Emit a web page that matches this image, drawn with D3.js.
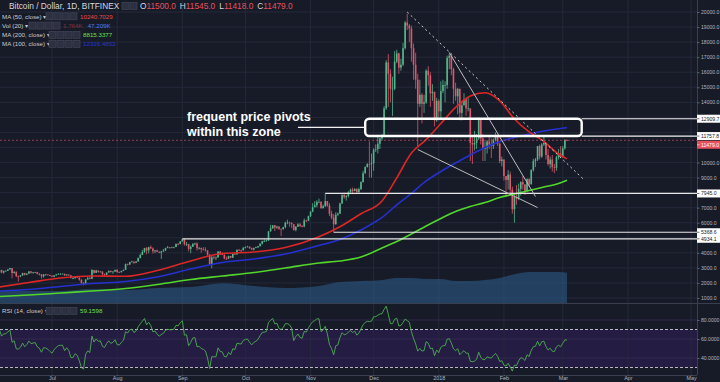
<!DOCTYPE html>
<html><head><meta charset="utf-8">
<script src="https://cdn.jsdelivr.net/npm/d3@7"></script>
<style>body{margin:0;background:#171b28;overflow:hidden}svg{display:block}</style>
</head><body>
<svg id="c" width="720" height="382"></svg>
<script>
// ---------------- DATA ----------------
const startDate = "2017-06-06";
// closes prior to the first visible candle (RSI warm-up, May 22 - Jun 5 2017)
const warmupCloses = [2150,2300,2480,2350,2250,2050,2200,2300,2200,2330,2450,2500,2550,2530,2700];
const closes = [
 2860,2690,2800,2810,2900,2990,2660,2720,2450,2440,2500,2660,2540,2620,2760,2680,2700,2720,2600,2560,2440,2570,2560,2530,2470,
 2420,2500,2560,2600,2610,2610,2500,2560,2500,2330,2330,2400,2360,2220,1980,1920,2230,2320,2270,2860,2670,2820,2740,2760,2580,2540,2690,2800,2720,2760,2860,
 2720,2710,2800,2870,3250,3220,3390,3420,3340,3420,3650,3860,4060,4320,4160,4380,4290,4110,4160,4070,4010,4090,4150,4320,4370,4360,4360,4390,4590,4580,4760,
 4900,4570,4590,4260,4400,4600,4620,4310,4330,4250,4220,4160,3880,3240,3700,3690,3690,4090,3900,3880,3620,3610,3790,3670,3930,3890,4200,4180,4170,4340,
 4400,4410,4310,4220,4320,4370,4440,4610,4770,4780,4820,5430,5640,5830,5680,5750,5600,5570,5700,6000,6010,5980,5900,5520,5740,5890,5770,5750,6150,6130,6440,
 6740,7030,7160,7380,7390,6960,7100,7440,7140,6600,6340,5900,6530,6600,7280,7840,7700,7780,8030,8200,8100,8240,8030,8230,8700,9290,9700,9900,9890,9950,
 10850,10900,11250,11600,11700,13600,16650,15900,14900,14900,16700,17250,16300,16500,17600,19300,19100,18900,17600,16500,15500,13900,14500,13900,14000,16100,15800,14600,14700,12800,14100,
 13400,14750,15150,15150,16950,17100,16200,14900,14400,14900,13300,13800,14200,13600,13600,11300,11200,11300,11600,12900,11600,10900,10950,11400,11200,11100,11500,11800,11250,10100,10200,
 9100,8850,9200,8200,6900,7700,7600,8250,8700,8550,8100,8900,8550,9500,10100,10200,11100,10400,11200,11300,10500,9900,10200,9700,9650,10350,10600,10400,
 10950,11500,11479
];
const highs = [
 2950,2880,2820,2840,2920,3000,2990,2800,2780,2500,2530,2680,2680,2640,2800,2800,2730,2740,2730,2650,2590,2580,2600,2580,2550,
 2510,2520,2600,2650,2640,2630,2610,2570,2570,2530,2410,2420,2420,2380,2230,2060,2240,2400,2410,2920,2860,2880,2830,2780,2760,2620,2700,2830,2820,2770,2900,
 2930,2760,2810,2890,3290,3290,3400,3480,3430,3450,3690,3950,4200,4330,4390,4400,4490,4360,4190,4220,4100,4130,4260,4340,4450,4380,4410,4400,4620,4650,4770,
 4934,4920,4720,4600,4500,4640,4680,4700,4380,4330,4380,4370,4160,3920,3790,3830,3760,4100,4110,4030,3890,3750,3810,3790,3950,3980,4220,4260,4210,4370,
 4410,4470,4430,4350,4350,4420,4460,4630,4800,4900,4880,5440,5860,5840,5850,5790,5750,5600,5730,6070,6200,6070,6040,5920,5770,5970,5990,5850,6280,6200,6470,
 6770,7300,7440,7500,7600,7420,7200,7945,7440,7300,6800,6580,6700,6680,7330,7900,8000,7850,8100,8270,8330,8300,8290,8330,8760,9450,9750,9950,11400,10600,
 10950,11200,11850,11650,11900,13750,16800,17200,16200,15700,17400,17500,17300,16900,17950,19400,19891,19200,19100,17900,17300,15900,15500,14600,14500,16200,16400,16000,15200,14700,14300,
 14200,15400,15500,15400,17100,17252,17100,16300,15300,14950,14900,14100,14600,14300,14300,13600,11700,12100,11900,13000,12950,11900,11400,11500,11700,11600,11600,12000,11850,11300,10400,
 10200,9100,9500,9400,8400,7900,8500,8600,8750,9100,8550,8950,8950,9550,10250,10300,11100,11200,11300,11800,11300,10900,10400,10500,9900,10450,10900,11100,
 11100,11550,11545
];
const lows = [
 2680,2650,2620,2760,2790,2880,2300,2620,2380,2100,2380,2470,2500,2520,2610,2620,2620,2680,2570,2500,2290,2350,2470,2500,2450,
 2390,2380,2490,2560,2550,2580,2480,2480,2500,2300,2250,2260,2330,2150,1970,1840,1920,2220,2240,2270,2620,2660,2680,2700,2490,2460,2540,2690,2700,2610,2740,
 2680,2660,2700,2780,2860,3170,3210,3370,3250,3320,3420,3640,3850,4000,3900,3970,4260,3950,3980,4050,3980,3600,4070,4120,4310,4270,4330,4300,4380,4520,4570,
 4740,4480,4450,4100,3970,4400,4500,4150,4220,4000,4150,4080,3800,3210,2970,3560,3530,3690,3850,3850,3570,3520,3580,3650,3670,3870,3890,4130,4030,4160,
 4290,4380,4270,4180,4150,4310,4320,4430,4550,4720,4740,4800,5400,5580,5450,5590,5520,5120,5550,5630,5900,5730,5650,5470,5420,5730,5730,5690,5700,6050,6110,
 6380,6700,7030,7020,7300,6950,6960,7050,7060,6450,6230,5368,5870,6450,6600,7250,7580,7470,7680,8000,7900,8100,8000,8000,8180,8670,9250,9670,9000,9000,
 9450,10700,10600,10900,11450,11700,13500,13700,14000,13100,14800,16600,15900,16100,16400,17500,18800,18000,16700,15500,14900,11000,13700,12600,13300,13900,15100,13700,14100,12400,12700,
 12800,12900,14600,14000,14900,16200,15800,13900,14100,13200,12800,12800,13800,13100,13400,10100,9900,10800,10900,11500,11200,10100,10100,10600,10900,10300,10900,11400,11100,9950,9750,
 8800,7700,8200,7900,6600,6000,7200,7500,7800,8200,7850,8100,8400,8550,9400,9700,10100,10200,10300,11100,10200,9800,9600,9400,9300,9450,10200,10300,
 10300,10850,11418
];
// moving averages & volume MA at sample dates
const maDates = ["2017-06-06","2017-06-20","2017-07-05","2017-07-20","2017-08-05","2017-08-20","2017-09-05","2017-09-20","2017-10-05","2017-10-20","2017-11-05","2017-11-15","2017-11-25","2017-12-05","2017-12-12","2017-12-19","2017-12-26","2018-01-02","2018-01-09","2018-01-16","2018-01-23","2018-01-30","2018-02-06","2018-02-13","2018-02-20","2018-02-27","2018-03-03"];
const ma50  = [1731,2030,2329,2462,2440,2827,3458,3957,4056,4355,5073,5738,6595,7450,8973,10635,11520,12588,13664,14422,14635,14100,12894,12030,11400,10568,10241];
const ma100 = [1465,1565,1764,1963,2096,2395,2927,3359,3591,3924,4488,4887,5518,6349,7179,7944,8774,9405,9970,10502,11000,11385,11664,11897,12096,12249,12316];
const ma200 = [1100,1199,1332,1465,1631,1897,2229,2462,2694,2993,3326,3458,3724,4322,4754,5252,5784,6282,6748,7080,7346,7678,7910,8143,8375,8608,8815];
const volMA = [18.8,18.8,18.8,21.9,20.3,23.4,25,31,26.6,23.4,26.6,32.8,34.4,36,39,39,37.5,37.5,34.4,34.4,36,39,45,48.4,48.4,48.4,47.2];
// axis tick labels
const monthTicks = ["2017-07-01","2017-08-01","2017-09-01","2017-10-01","2017-11-01","2017-12-01","2018-01-01","2018-02-01","2018-03-01","2018-04-01","2018-05-01"];
const monthLabels = ["Jul","Aug","Sep","Oct","Nov","Dec","2018","Feb","Mar","Apr","May"];
const priceTicks = d3.range(1000, 20001, 1000);
const rsiTicks = [40,60,80];
// drawings
const levelLines = [{start:"2017-11-08",price:7945.0},{start:"2017-11-12",price:5368.6},{start:"2017-09-01",price:4934.1}];
const zone = {start:"2017-11-27", end:"2018-03-10", top:12909.7, bottom:11757.8};
const trendLines = [
  {from:["2017-12-17",20000], to:["2018-03-11",8870], dotted:true},
  {from:["2018-01-06",17309], to:["2018-02-16",7741], dotted:false},
  {from:["2017-12-22",10864], to:["2018-02-17",7010], dotted:false}
];
const noteLines = ["frequent price pivots","within this zone"];
const noteFrom = "2017-10-26";
const lastPrice = 11479.0;

// ---------------- CHART ----------------
const svg = d3.select("#c");
const P = d3.utcParse("%Y-%m-%d");
const plotR = 697, mainBot = 303, rsiBot = 375;
const x = d3.scaleUtc().domain([P("2017-07-01"), P("2018-05-01")]).range([52, 691]);
const y = d3.scaleLinear().domain([1000, 20000]).range([298, 12]);
const ry = d3.scaleLinear().domain([40, 80]).range([358, 320]);
const vy = d3.scaleLinear().domain([0, 100]).range([mainBot, 239]);
const FONT = "'Liberation Sans', Arial, sans-serif";
const AX = "#b2b5be", GRID = "#242938";
const AXF = 5.1;

svg.append("rect").attr("width",720).attr("height",382).attr("fill","#171b28");
const defs = svg.append("defs");
defs.append("clipPath").attr("id","mainClip").append("rect").attr("x",0).attr("y",0).attr("width",plotR).attr("height",mainBot);
defs.append("clipPath").attr("id","rsiClip").append("rect").attr("x",0).attr("y",mainBot).attr("width",plotR).attr("height",rsiBot-mainBot);

// RSI band
svg.append("rect").attr("x",0).attr("width",plotR).attr("y",ry(70)).attr("height",ry(30)-ry(70)).attr("fill","#251c43");

// grids
const g = svg.append("g");
g.selectAll(".vg").data(monthTicks).join("line").attr("x1",d=>x(P(d))).attr("x2",d=>x(P(d))).attr("y1",0).attr("y2",rsiBot).attr("stroke",GRID).attr("stroke-width",1);
g.selectAll(".hg").data(priceTicks).join("line").attr("x1",0).attr("x2",plotR).attr("y1",d=>y(d)).attr("y2",d=>y(d)).attr("stroke",GRID);
g.selectAll(".rg").data(rsiTicks).join("line").attr("x1",0).attr("x2",plotR).attr("y1",d=>ry(d)).attr("y2",d=>ry(d)).attr("stroke","#30294d");

const main = svg.append("g").attr("clip-path","url(#mainClip)");

// volume MA area
const volPts = maDates.map((d,i)=>[P(d), volMA[i]]);
main.append("path").datum(volPts)
  .attr("d", d3.area().x(d=>x(d[0])).y0(vy(0)).y1(d=>vy(d[1])).curve(d3.curveMonotoneX))
  .attr("fill","#2b5a87").attr("fill-opacity",0.6);

// candles
const base = P(startDate);
const candles = closes.map((c,i)=>({
  date: d3.utcDay.offset(base, i),
  o: i===0 ? warmupCloses[warmupCloses.length-1] : closes[i-1],
  h: highs[i], l: lows[i], c
}));
const UP = "#53b58a", DN = "#e0566b";
const cg = main.append("g");
cg.selectAll("line").data(candles).join("line")
  .attr("x1",d=>x(d.date)).attr("x2",d=>x(d.date))
  .attr("y1",d=>y(Math.max(d.h,d.o,d.c))).attr("y2",d=>y(Math.min(d.l,d.o,d.c)))
  .attr("stroke",d=>d.c>=d.o?UP:DN).attr("stroke-width",0.8);
cg.selectAll("rect").data(candles).join("rect")
  .attr("x",d=>x(d.date)-0.8).attr("width",1.6)
  .attr("y",d=>y(Math.max(d.o,d.c))).attr("height",d=>Math.max(0.7, Math.abs(y(d.o)-y(d.c))))
  .attr("fill",d=>d.c>=d.o?UP:DN);

// moving averages
const maLine = d3.line().x(d=>x(d[0])).y(d=>y(d[1])).curve(d3.curveMonotoneX);
[[ma200,"#52d62c"],[ma100,"#2630d0"],[ma50,"#dd2626"]].forEach(([arr,col])=>{
  main.append("path").datum(maDates.map((d,i)=>[P(d),arr[i]])).attr("d",maLine)
    .attr("fill","none").attr("stroke",col).attr("stroke-width",1.6);
});

// level lines
main.selectAll(".lvl").data(levelLines).join("line")
  .attr("x1",d=>x(P(d.start))).attr("x2",plotR).attr("y1",d=>y(d.price)).attr("y2",d=>y(d.price))
  .attr("stroke","#e6e6e6").attr("stroke-width",1.2);

// trend lines
main.selectAll(".tl").data(trendLines).join("line")
  .attr("x1",d=>x(P(d.from[0]))).attr("y1",d=>y(d.from[1]))
  .attr("x2",d=>x(P(d.to[0]))).attr("y2",d=>y(d.to[1]))
  .attr("stroke",d=>d.dotted?"#d0d0d0":"#bdbdbd").attr("stroke-width",1)
  .attr("stroke-dasharray",d=>d.dotted?"2,3":null);

// zone rectangle + extensions
const zx0 = x(P(zone.start)), zx1 = x(P(zone.end));
main.append("line").attr("x1",zx1).attr("x2",plotR).attr("y1",y(zone.top)).attr("y2",y(zone.top)).attr("stroke","#f2f2f2").attr("stroke-width",1.2);
main.append("line").attr("x1",zx1).attr("x2",plotR).attr("y1",y(zone.bottom)).attr("y2",y(zone.bottom)).attr("stroke","#f2f2f2").attr("stroke-width",1.2);
main.append("rect").attr("x",zx0).attr("y",y(zone.top)).attr("width",zx1-zx0).attr("height",y(zone.bottom)-y(zone.top))
  .attr("rx",4).attr("fill","none").attr("stroke","#ffffff").attr("stroke-width",2.4);
const zmid = (zone.top+zone.bottom)/2;
main.append("line").attr("x1",x(P(noteFrom))).attr("x2",zx0).attr("y1",y(zmid)).attr("y2",y(zmid)).attr("stroke","#f2f2f2").attr("stroke-width",1.4);

// last price line
main.append("line").attr("x1",0).attr("x2",plotR).attr("y1",y(lastPrice)).attr("y2",y(lastPrice))
  .attr("stroke","#e0566b").attr("stroke-width",0.8).attr("stroke-dasharray","2,2").attr("opacity",0.8);

// annotation text
const note = svg.append("text").attr("font-family",FONT).attr("font-weight","bold").attr("font-size",12.5).attr("fill","#ffffff");
noteLines.forEach((t,i)=>note.append("tspan").attr("x",187).attr("y",121+i*15).text(t));

// RSI
const allC = warmupCloses.concat(closes);
let ag=0, al=0; const rsi=[];
for (let i=1;i<allC.length;i++){
  const ch = allC[i]-allC[i-1], gg=Math.max(ch,0), ll=Math.max(-ch,0);
  if (i<=14){ ag+=gg/14; al+=ll/14; } else { ag=(ag*13+gg)/14; al=(al*13+ll)/14; }
  const idx = i - warmupCloses.length;
  if (idx>=0) rsi.push([candles[idx].date, 100 - 100/(1+ag/al)]);
}
const rg = svg.append("g").attr("clip-path","url(#rsiClip)");
[70,30].forEach(v=>rg.append("line").attr("x1",0).attr("x2",plotR).attr("y1",ry(v)).attr("y2",ry(v))
  .attr("stroke","#c9c9d2").attr("stroke-width",0.9).attr("stroke-dasharray","3,2"));
rg.append("path").datum(rsi).attr("d",d3.line().x(d=>x(d[0])).y(d=>ry(d[1])))
  .attr("fill","none").attr("stroke","#4caf50").attr("stroke-width",0.9);

// separators
svg.append("line").attr("x1",0).attr("x2",720).attr("y1",mainBot+0.5).attr("y2",mainBot+0.5).attr("stroke","#3a3f50");
svg.append("line").attr("x1",0).attr("x2",plotR).attr("y1",rsiBot+0.5).attr("y2",rsiBot+0.5).attr("stroke","#3a3f50");
svg.append("line").attr("x1",plotR+0.5).attr("x2",plotR+0.5).attr("y1",0).attr("y2",rsiBot).attr("stroke","#3a3f50");

// price labels on axis (boxes)
const tags = [
  {v:12909.7, bg:"#ffffff", fg:"#131722"},
  {v:11757.8, bg:"#ffffff", fg:"#131722"},
  {v:lastPrice, bg:"#e8505d", fg:"#ffffff", shift:4.5},
  {v:7945.0, bg:"#ffffff", fg:"#131722"},
  {v:5368.6, bg:"#ffffff", fg:"#131722"},
  {v:4934.1, bg:"#ffffff", fg:"#131722"}
];
const tagY = tags.map(t=>y(t.v)+(t.shift||0));

// price axis (ticks hidden under a tag are skipped)
const visTicks = priceTicks.filter(v=>tagY.every(ty=>Math.abs(ty-y(v))>6));
const ya = svg.append("g").attr("transform",`translate(${plotR},0)`)
  .call(d3.axisRight(y).tickValues(visTicks).tickFormat(d3.format(".1f")).tickSize(2.5).tickPadding(1.5));
const ra = svg.append("g").attr("transform",`translate(${plotR},0)`)
  .call(d3.axisRight(ry).tickValues(rsiTicks).tickFormat(d3.format(".4f")).tickSize(2.5).tickPadding(1.5));
const xa = svg.append("g").attr("transform",`translate(0,${rsiBot})`)
  .call(d3.axisBottom(x).tickValues(monthTicks.map(P)).tickFormat((d,i)=>monthLabels[i]).tickSize(1).tickPadding(0.5));
[ya,ra,xa].forEach(a=>{
  a.select(".domain").remove();
  a.selectAll("line").attr("stroke","#5a5f70");
  a.selectAll("text").attr("fill",AX).attr("font-family",FONT).attr("font-size",AXF);
});
xa.selectAll("text").attr("font-size",5.4);

const tg = svg.append("g");
tags.forEach((t,i)=>{
  const cy = tagY[i];
  tg.append("rect").attr("x",plotR).attr("y",cy-4).attr("width",23).attr("height",8).attr("fill",t.bg);
  tg.append("line").attr("x1",plotR).attr("x2",plotR+2.5).attr("y1",cy).attr("y2",cy).attr("stroke",t.fg).attr("stroke-width",0.6);
  tg.append("text").attr("x",plotR+4).attr("y",cy).attr("dy","0.35em").attr("font-family",FONT).attr("font-size",AXF)
    .attr("fill",t.fg).text(d3.format(".1f")(t.v));
});

// legends
function boxes(x0, yc, n){
  for(let i=0;i<n;i++) svg.append("rect").attr("x",x0+i*8).attr("y",yc-3.5).attr("width",7).attr("height",7)
    .attr("fill","#2c3040").attr("stroke","#454a5c").attr("stroke-width",0.6);
}
const L = svg.append("g").attr("font-family",FONT);
L.append("text").attr("x",9).attr("y",9).attr("font-size",8.3).attr("fill","#d6d8df").text("Bitcoin / Dollar, 1D, BITFINEX \u25BE");
boxes(122, 6, 2);
const ohlc = L.append("text").attr("x",140).attr("y",9).attr("font-size",8.3);
[["O","11500.0"],["H","11545.0"],["L","11418.0"],["C","11479.0"]].forEach(([k,v],i)=>{
  ohlc.append("tspan").attr("fill","#d6d8df").attr("dx", i?4:0).text(k);
  ohlc.append("tspan").attr("fill","#e8505d").text(v);
});
const subs = [
  {t:"MA (50, close) \u25BE", bx:46, vx:80, y:18.5, vals:[["10240.7029","#e84a4a"]]},
  {t:"Vol (20) \u25BE", bx:29, vx:63, y:27.8, vals:[["1.764K","#8a2d3c"],["47.209K","#4a7ff0"]]},
  {t:"MA (200, close) \u25BE", bx:49, vx:83, y:37, vals:[["8815.3377","#6be04a"]]},
  {t:"MA (100, close) \u25BE", bx:49, vx:83, y:46, vals:[["12316.4852","#2a36c8"]]}
];
subs.forEach(s=>{
  L.append("text").attr("x",2).attr("y",s.y).attr("font-size",6.2).attr("fill","#c8cad2").text(s.t);
  boxes(s.bx, s.y-2.2, 4);
  const tx = L.append("text").attr("x",s.vx).attr("y",s.y).attr("font-size",6.2);
  s.vals.forEach(([v,c],i)=>tx.append("tspan").attr("fill",c).attr("dx",i?5:0).text(v));
});
L.append("text").attr("x",2).attr("y",313).attr("font-size",6.2).attr("fill","#c8cad2").text("RSI (14, close) \u25BE");
boxes(46, 310.8, 4);
L.append("text").attr("x",80).attr("y",313).attr("font-size",6.2).attr("fill","#6be04a").text("59.1598");
</script>
</body></html>
